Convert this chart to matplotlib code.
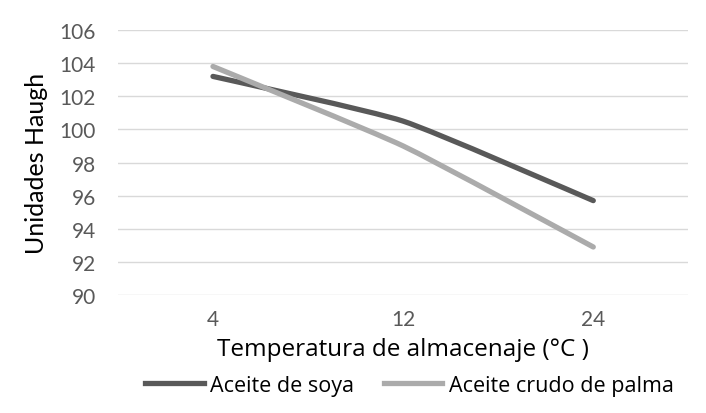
import matplotlib
matplotlib.use('Agg')
import matplotlib.pyplot as plt
from matplotlib.path import Path
from matplotlib.patches import PathPatch
from matplotlib.lines import Line2D

temps = ['4', '12', '24']
soya = [103.2, 100.5, 95.7]
palma = [103.8, 99.0, 92.9]
series_names = ['Aceite de soya', 'Aceite crudo de palma']
yticks = [90, 92, 94, 96, 98, 100, 102, 104, 106]


def smooth_path(xs, ys, k=12):
    # lightly smoothed line: cubic Bezier segments, Catmull-Rom style controls
    pts = list(zip(xs, ys))
    verts = [pts[0]]
    codes = [Path.MOVETO]
    for i in range(len(pts) - 1):
        p0 = pts[i - 1] if i > 0 else pts[i]
        p1 = pts[i]
        p2 = pts[i + 1]
        p3 = pts[i + 2] if i + 2 < len(pts) else pts[i + 1]
        c1 = (p1[0] + (p2[0] - p0[0]) / k, p1[1] + (p2[1] - p0[1]) / k)
        c2 = (p2[0] - (p3[0] - p1[0]) / k, p2[1] - (p3[1] - p1[1]) / k)
        verts += [c1, c2, p2]
        codes += [Path.CURVE4] * 3
    return Path(verts, codes)


fig = plt.figure(figsize=(7.06, 4.14), dpi=100)
ax = fig.add_axes([0.167, 0.285, 0.808, 0.64])

xpos = list(range(len(temps)))
colors = ['#595959', '#ababab']
for vals, col in zip([soya, palma], colors):
    p = smooth_path(xpos, vals)
    ax.add_patch(PathPatch(p, facecolor='none', edgecolor=col, lw=3.8,
                           capstyle='round', joinstyle='round', zorder=3))

ax.set_xlim(-0.5, 2.5)
ax.set_ylim(90, 106)
ax.set_xticks(xpos)
ax.set_xticklabels(temps)
ax.set_yticks(yticks)
ax.grid(axis='y', color='#d9d9d9', lw=1)
ax.set_axisbelow(True)
for s in ax.spines.values():
    s.set_visible(False)
ax.tick_params(length=0, labelsize=15, labelcolor='#595959')
ax.tick_params(axis='y', pad=16)
ax.tick_params(axis='x', pad=10)
for lab in ax.get_xticklabels() + ax.get_yticklabels():
    lab.set_fontfamily('Lato')

ax.set_xlabel('Temperatura de almacenaje (°C )', fontsize=17.5, family='Open Sans', labelpad=6)
ax.set_ylabel('Unidades Haugh', fontsize=18, family='Lato', labelpad=8)

handles = [Line2D([], [], color=c, lw=3.8) for c in colors]
fig.legend(handles, series_names, loc='center', bbox_to_anchor=(0.58, 0.067),
           ncol=2, frameon=False, handlelength=2.7, handletextpad=0.3,
           columnspacing=1.4, prop={'family': 'Open Sans', 'size': 15.5})

fig.savefig('out.png', dpi=100)
